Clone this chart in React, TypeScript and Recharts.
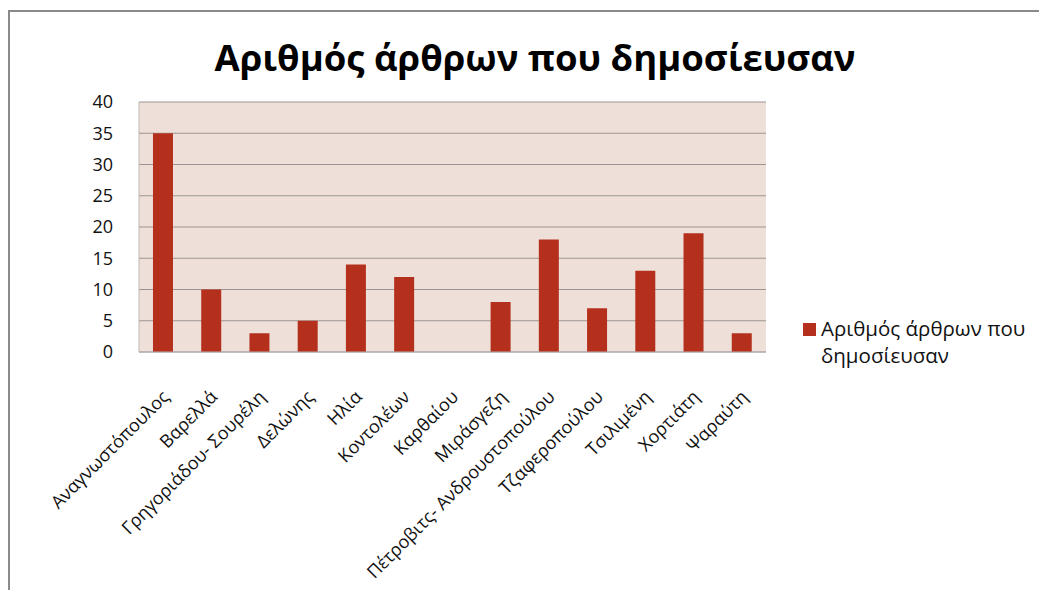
import React from "react";
import { BarChart, Bar, XAxis, YAxis, CartesianGrid, Legend } from "recharts";

const authors = [
  "Αναγνωστόπουλος",
  "Βαρελλά",
  "Γρηγοριάδου- Σουρέλη",
  "Δελώνης",
  "Ηλία",
  "Κοντολέων",
  "Καρθαίου",
  "Μιράσγεζη",
  "Πέτροβιτς- Ανδρουστοπούλου",
  "Τζαφεροπούλου",
  "Τσιλιμένη",
  "Χορτιάτη",
  "Ψαραύτη",
];
const articles = [35, 10, 3, 5, 14, 12, 0, 8, 18, 7, 13, 19, 3];
const yTicks = [0, 5, 10, 15, 20, 25, 30, 35, 40];

const seriesName = "Αριθμός άρθρων που δημοσίευσαν";
const BAR = "#b5301c";
const FONT = "'Open Sans', 'Noto Sans', sans-serif";

const data = authors.map((name, i) => ({ name, value: articles[i] }));

function AngledTick({ x, y, payload }: any) {
  return (
    <g transform={`translate(${x + 7},${y + 38})`}>
      <text transform="rotate(-45)" textAnchor="end" fontSize={18} fontFamily={FONT} fill="#111">
        {payload.value}
      </text>
    </g>
  );
}

function LegendBox() {
  return (
    <div style={{ display: "flex", fontFamily: FONT, fontSize: 20.5, color: "#111", lineHeight: "27px" }}>
      <span style={{ width: 13, height: 13, background: BAR, marginTop: 8, marginRight: 5, flexShrink: 0 }} />
      <span>
        Αριθμός άρθρων που
        <br />
        δημοσίευσαν
      </span>
    </div>
  );
}

export default function App() {
  return (
    <div style={{ position: "relative", width: 1047, height: 598, margin: -8, background: "#fff", overflow: "hidden" }}>
      <div
        style={{
          position: "absolute",
          left: 8,
          top: 10,
          width: 1100,
          height: 700,
          borderTop: "2px solid #8a8a8a",
          borderLeft: "2px solid #8a8a8a",
        }}
      />
      <div
        style={{
          position: "absolute",
          left: 0,
          width: 1070,
          top: 32,
          textAlign: "center",
          fontFamily: FONT,
          fontWeight: 700,
          fontSize: 36.5,
          color: "#000",
        }}
      >
        Αριθμός άρθρων που δημοσίευσαν
      </div>
      <BarChart
        width={1047}
        height={598}
        data={data}
        margin={{ top: 102, right: 281, left: 99, bottom: 46 }}
        barCategoryGap="29%"
        style={{ position: "absolute", left: 0, top: 0 }}
      >
        <CartesianGrid vertical={false} stroke="#9c9494" strokeWidth={1.2} fill="#eee0d8" />
        <XAxis
          dataKey="name"
          interval={0}
          height={200}
          tick={<AngledTick />}
          tickLine={false}
          axisLine={{ stroke: "#b4b0b4" }}
        />
        <YAxis
          width={40}
          domain={[0, 40]}
          ticks={yTicks}
          interval={0}
          tickLine={false}
          axisLine={{ stroke: "#c0b8b4" }}
          tickMargin={20}
          tick={{ fontSize: 18, fontFamily: FONT, fill: "#111" }}
        />
        <Legend
          layout="vertical"
          align="center"
          verticalAlign="middle"
          content={<LegendBox />}
          wrapperStyle={{ position: "absolute", left: 803, top: 315, width: 244 }}
        />
        <Bar dataKey="value" name={seriesName} fill={BAR} isAnimationActive={false} />
      </BarChart>
    </div>
  );
}
